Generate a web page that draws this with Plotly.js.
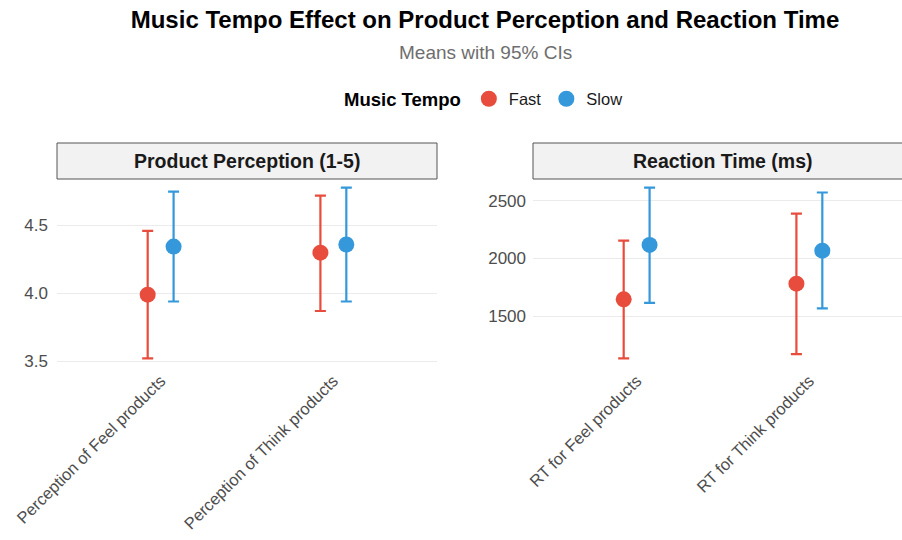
<!DOCTYPE html>
<html>
<head>
<meta charset="utf-8">
<script src="https://cdn.plot.ly/plotly-3.0.1.min.js"></script>
<style>
html,body{margin:0;padding:0;overflow:hidden;background:#fff;}
#chart{width:920px;height:540px;}
</style>
</head>
<body>
<div id="chart"></div>
<script>
// ---- data ----
const categoriesPerception = ['Perception of Feel products', 'Perception of Think products'];
const categoriesRT = ['RT for Feel products', 'RT for Think products'];
const tempoGroups = ['Fast', 'Slow'];

const percFastMean = [3.99, 4.30];
const percFastLow  = [3.52, 3.87];
const percFastHigh = [4.46, 4.72];
const percSlowMean = [4.345, 4.36];
const percSlowLow  = [3.94, 3.94];
const percSlowHigh = [4.75, 4.78];

const rtFastMean = [1645, 1781];
const rtFastLow  = [1132, 1170];
const rtFastHigh = [2155, 2388];
const rtSlowMean = [2117, 2067];
const rtSlowLow  = [1615, 1566];
const rtSlowHigh = [2615, 2572];

const perceptionTicks = [3.5, 4.0, 4.5];
const rtTicks = [1500, 2000, 2500];

const panelTitles = ['Product Perception (1-5)', 'Reaction Time (ms)'];
const legendTitle = 'Music Tempo';
const chartTitle = 'Music Tempo Effect on Product Perception and Reaction Time';
const chartSubtitle = 'Means with 95% CIs';

// ---- styles ----
const colors = {Fast: '#E74C3C', Slow: '#3498DB'};
const FONT = 'Liberation Sans, Arial, Helvetica, sans-serif';

function mkTrace(name, cats, mean, low, high, xa, ya, showlegend) {
  return {
    type: 'scatter', mode: 'markers', name: name, legendgroup: name, showlegend: showlegend,
    x: cats, y: mean, xaxis: xa, yaxis: ya,
    marker: {color: colors[name], size: 16},
    error_y: {type: 'data', symmetric: false,
      array: high.map((h, i) => h - mean[i]),
      arrayminus: low.map((l, i) => mean[i] - l),
      color: colors[name], thickness: 2.2, width: 5.5}
  };
}

function expRange(arrs) {
  const all = [].concat(...arrs);
  const mn = Math.min(...all), mx = Math.max(...all), s = mx - mn;
  return [mn - 0.05 * s, mx + 0.05 * s];
}

const traces = [
  mkTrace('Fast', categoriesPerception, percFastMean, percFastLow, percFastHigh, 'x', 'y', true),
  mkTrace('Slow', categoriesPerception, percSlowMean, percSlowLow, percSlowHigh, 'x', 'y', true),
  mkTrace('Fast', categoriesRT, rtFastMean, rtFastLow, rtFastHigh, 'x2', 'y2', false),
  mkTrace('Slow', categoriesRT, rtSlowMean, rtSlowLow, rtSlowHigh, 'x2', 'y2', false)
];

const plotH = 188, stripH = 36;
const yTop = plotH / (plotH + stripH);

const xBase = {
  type: 'category', range: [-0.6, 1.6], showgrid: false, zeroline: false, showline: false,
  ticks: '', tickangle: -45, tickfont: {family: FONT, size: 16.5, color: '#4d4d4d'}, fixedrange: true
};
const yBase = {
  showgrid: true, gridcolor: '#ebebeb', gridwidth: 1, zeroline: false, showline: false,
  ticks: '', tickfont: {family: FONT, size: 17, color: '#4d4d4d'}, domain: [0, yTop]
};

const layout = {
  width: 920, height: 540,
  margin: {l: 57, r: 7, t: 143, b: 173},
  paper_bgcolor: '#fff', plot_bgcolor: '#fff',
  font: {family: FONT},
  scattermode: 'group', scattergap: 0.7,
  title: {text: '<b>' + chartTitle + '</b>', font: {family: FONT, size: 24, color: '#000'},
          x: 0.5, xref: 'paper', xanchor: 'center', y: 1 - 20 / 540, yref: 'container', yanchor: 'middle'},
  xaxis: Object.assign({}, xBase, {domain: [0, 380 / 856], anchor: 'y'}),
  xaxis2: Object.assign({}, xBase, {domain: [476 / 856, 1], anchor: 'y2'}),
  yaxis: Object.assign({}, yBase, {anchor: 'x', ticklabelstandoff: 8,
    range: expRange([percFastLow, percFastHigh, percSlowLow, percSlowHigh]), tickvals: perceptionTicks, tickformat: '.1f'}),
  yaxis2: Object.assign({}, yBase, {anchor: 'x2', ticklabelstandoff: 6,
    range: expRange([rtFastLow, rtFastHigh, rtSlowLow, rtSlowHigh]), tickvals: rtTicks, tickformat: 'd'}),
  showlegend: true,
  legend: {orientation: 'h', x: 0.5, xanchor: 'center', y: 1 + 44 / 224, yanchor: 'middle',
           title: {text: '<b>' + legendTitle + '</b>', side: 'left', font: {family: FONT, size: 18.5, color: '#000'}},
           font: {family: FONT, size: 16.5, color: '#1a1a1a'}, itemwidth: 30, tracegroupgap: 0},
  shapes: [
    {type: 'rect', xref: 'x domain', yref: 'y domain', x0: 0, x1: 1, y0: 1, y1: 1 + stripH / plotH,
     fillcolor: '#f2f2f2', line: {color: '#555', width: 1}},
    {type: 'rect', xref: 'x2 domain', yref: 'y2 domain', x0: 0, x1: 1, y0: 1, y1: 1 + stripH / plotH,
     fillcolor: '#f2f2f2', line: {color: '#555', width: 1}}
  ],
  annotations: [
    {text: chartSubtitle, xref: 'paper', yref: 'paper', x: 0.5, y: 1 + (143 - 52) / 224, xanchor: 'center', yanchor: 'middle',
     showarrow: false, font: {family: FONT, size: 19, color: '#6e6e6e'}},
    {text: '<b>' + panelTitles[0] + '</b>', xref: 'x domain', yref: 'y domain', x: 0.5, y: 1 + stripH / 2 / plotH,
     xanchor: 'center', yanchor: 'middle', showarrow: false, font: {family: FONT, size: 19.5, color: '#1a1a1a'}},
    {text: '<b>' + panelTitles[1] + '</b>', xref: 'x2 domain', yref: 'y2 domain', x: 0.5, y: 1 + stripH / 2 / plotH,
     xanchor: 'center', yanchor: 'middle', showarrow: false, font: {family: FONT, size: 19.5, color: '#1a1a1a'}}
  ]
};

Plotly.newPlot('chart', traces, layout, {displayModeBar: false, staticPlot: true});
</script>
</body>
</html>
